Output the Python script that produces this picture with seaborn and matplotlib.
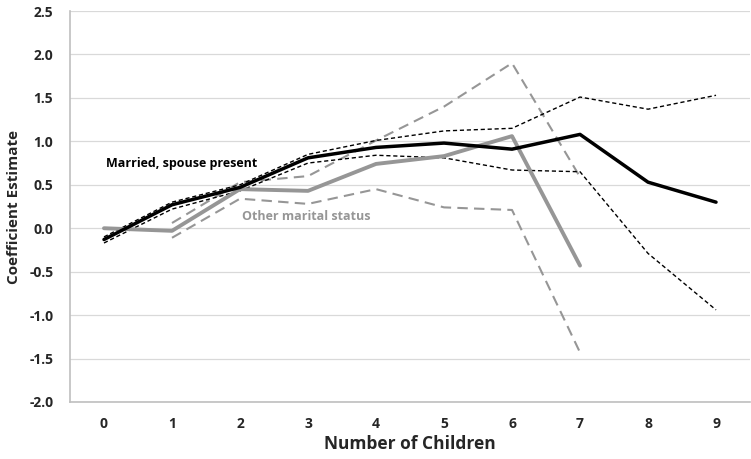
import matplotlib
matplotlib.use("Agg")
import matplotlib.pyplot as plt
import seaborn as sns
import pandas as pd

# number of children
children = [0, 1, 2, 3, 4, 5, 6, 7, 8, 9]

# married, spouse present
married = [-0.13, 0.27, 0.47, 0.81, 0.93, 0.98, 0.91, 1.08, 0.53, 0.30]
married_hi = [-0.10, 0.30, 0.50, 0.85, 1.01, 1.12, 1.15, 1.51, 1.37, 1.53]
married_lo = [-0.17, 0.22, 0.43, 0.75, 0.84, 0.81, 0.67, 0.65, -0.29, -0.94]

# other marital status (no children 8-9)
other_x = [0, 1, 2, 3, 4, 5, 6, 7]
other = [0.00, -0.03, 0.45, 0.43, 0.74, 0.83, 1.06, -0.43]
other_ci_x = [1, 2, 3, 4, 5, 6, 7]
other_hi = [0.06, 0.53, 0.60, 1.01, 1.40, 1.90, 0.59]
other_lo = [-0.11, 0.34, 0.28, 0.45, 0.24, 0.21, -1.43]

y_ticks = [-2.0, -1.5, -1.0, -0.5, 0.0, 0.5, 1.0, 1.5, 2.0, 2.5]

sns.set_style("white")
plt.rcParams['font.family'] = ['Open Sans', 'DejaVu Sans']

fig = plt.figure(figsize=(7.51, 4.59), dpi=100)
ax = fig.add_axes([0.0932, 0.1242, 0.9055, 0.8518])

grey = "#969696"

def draw(x, y, color, lw, dashes=None):
    df = pd.DataFrame({"x": x, "y": y})
    line = sns.lineplot(data=df, x="x", y="y", color=color, linewidth=lw, ax=ax)
    if dashes is not None:
        line.get_lines()[-1].set_dashes(dashes)

draw(other_ci_x, other_hi, grey, 1.5, (5, 3))
draw(other_ci_x, other_lo, grey, 1.5, (5, 3))
draw(children, married_hi, "black", 1.0, (3, 2))
draw(children, married_lo, "black", 1.0, (3, 2))
draw(other_x, other, grey, 2.8)
draw(children, married, "black", 2.5)

ax.set_xlim(-0.5, 9.5)
ax.set_ylim(-2.0, 2.5)
ax.set_yticks(y_ticks)
ax.set_yticklabels([f"{v:.1f}" for v in y_ticks], fontweight="bold", fontsize=10)
ax.set_xticks(children)
ax.set_xticklabels([str(c) for c in children], fontweight="bold", fontsize=10)
ax.set_xticks([c + 0.5 for c in [-1] + children], minor=True)
ax.tick_params(axis="x", which="major", length=0, pad=11)
ax.tick_params(axis="x", which="minor", length=5, color="#bfbfbf", direction="out")
ax.tick_params(axis="y", length=4, color="#bfbfbf", direction="out", pad=8)

ax.grid(axis="y", color="#d9d9d9", linewidth=0.9)
ax.set_axisbelow(True)
for s in ["top", "right"]:
    ax.spines[s].set_visible(False)
for s in ["left", "bottom"]:
    ax.spines[s].set_color("#bfbfbf")
    ax.spines[s].set_linewidth(1.2)

ax.set_xlabel("Number of Children", fontweight="bold", fontsize=12.5, labelpad=3)
ax.set_ylabel("Coefficient Estimate", fontweight="bold", fontsize=11, labelpad=6)

ax.text(0.03, 0.75, "Married, spouse present", fontweight="bold", fontsize=9, color="black", va="center")
ax.text(2.03, 0.13, "Other marital status", fontweight="bold", fontsize=9, color=grey, va="center")

fig.savefig("out.png", dpi=100)
